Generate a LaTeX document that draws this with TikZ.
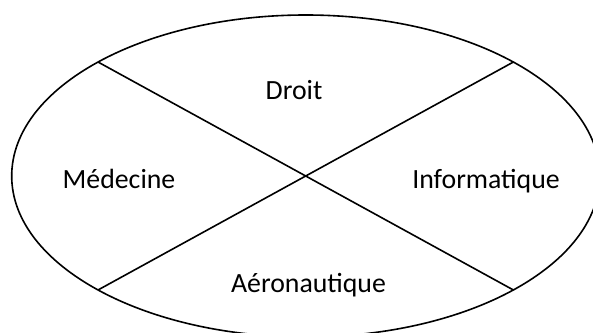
\documentclass[tikz,border=0pt]{standalone}
\usepackage{fontspec}
\setmainfont{Carlito}
\usepackage{tikz}

\begin{document}
\begin{tikzpicture}[x=1pt,y=-1pt,
    cut/.style={line width=1.6pt},
    field/.style={font=\fontsize{27.8}{32}\selectfont,anchor=base,inner sep=0pt}]

  \useasboundingbox (0,0) rectangle (593,332);
  \clip (0,0) rectangle (593,332);

  \coordinate (mid) at (305.7,176);
  \draw[cut] (mid) ellipse [x radius=294pt, y radius=161pt];

  \coordinate (nw) at (98,62);
  \coordinate (ne) at (513.4,62);
  \coordinate (sw) at (98,290);
  \coordinate (se) at (513.4,290);

  \draw[cut] (nw) -- (se);
  \draw[cut] (sw) -- (ne);

  \node[field] (droit) at (294,99) {Droit};
  \node[field] (med) at (119,188.5) {Médecine};
  \node[field] (info) at (486,188.5) {Informatique};
  \node[field] (aero) at (308.5,292) {Aéronautique};

\end{tikzpicture}
\end{document}
